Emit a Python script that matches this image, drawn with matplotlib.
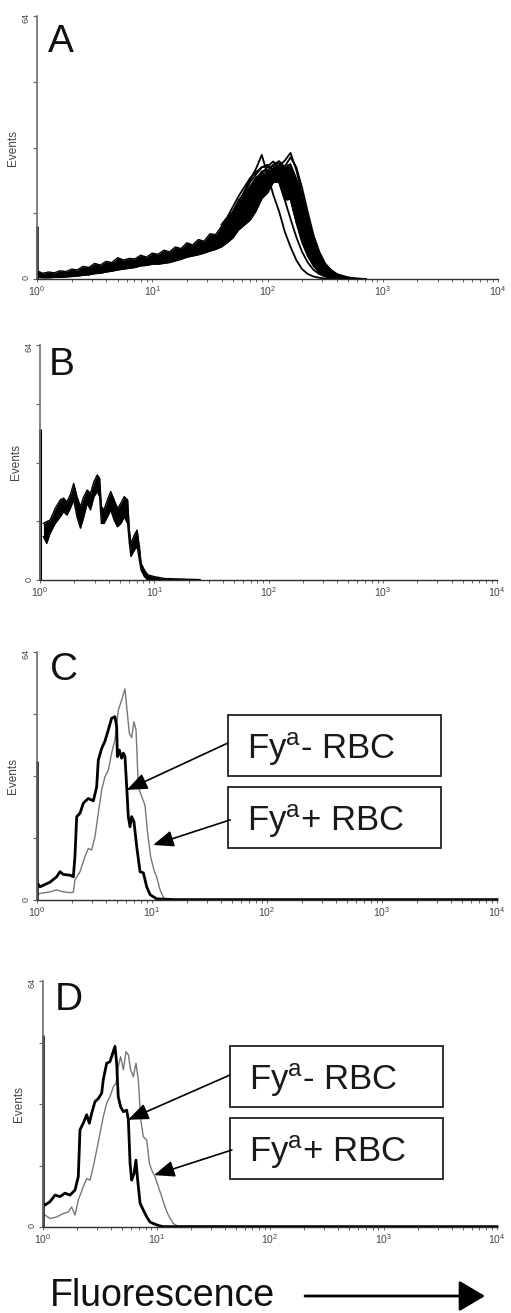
import numpy as np
import matplotlib
matplotlib.use("Agg")
import matplotlib.pyplot as plt
from matplotlib.patches import Rectangle, FancyArrowPatch
from matplotlib.ticker import FixedLocator, LogLocator, NullFormatter

plt.rcParams['font.family'] = ['Liberation Sans', 'DejaVu Sans']
plt.rcParams['mathtext.fontset'] = 'custom'
plt.rcParams['mathtext.rm'] = 'Liberation Sans'
plt.rcParams['mathtext.it'] = 'Liberation Sans:italic'
plt.rcParams['mathtext.bf'] = 'Liberation Sans:bold'

# ---------------- data (x in log10 decades of fluorescence, y in events) ----------------
# Panel A: overlapping histograms of many samples
A_spike = 13.0
A_band_decade = np.round(np.arange(0.0, 2.651, 0.05), 2)
A_band_upper = [2.0, 1.4, 1.7, 1.5, 2.0, 1.8, 2.4, 2.2, 3.1, 2.8,
                3.8, 3.4, 4.3, 4.0, 5.2, 4.6, 5.0, 4.9, 5.8, 5.3,
                6.3, 6.0, 7.0, 6.6, 7.8, 7.4, 8.8, 8.3, 9.6, 9.2,
                11.0, 10.8, 12.8, 14.0, 16.5, 18.6, 20.8, 22.6, 24.6, 25.6,
                26.0, 27.0, 27.6, 27.4, 28.0, 24.5, 20.5, 15.0, 9.5, 6.0,
                3.6, 2.2, 1.2, 0.6]
A_band_lower = [0.4, 0.3, 0.3, 0.4, 0.4, 0.5, 0.6, 0.7, 0.9, 1.0,
                1.3, 1.4, 1.7, 1.9, 2.2, 2.4, 2.6, 2.8, 3.2, 3.3,
                3.6, 3.6, 3.8, 4.0, 4.4, 4.8, 5.3, 5.6, 5.9, 6.3,
                6.8, 7.2, 7.8, 8.8, 10.0, 12.0, 13.2, 14.4, 16.6, 19.6,
                21.0, 23.5, 23.6, 19.2, 19.4, 13.8, 9.0, 5.6, 3.2, 1.6,
                0.8, 0.4, 0.1, 0.0]
A_peak_decade = np.round(np.arange(1.60, 2.851, 0.05), 2)
A_peak_curves = [
    [12.0, 13.8, 16.2, 18.6, 21.4, 24.2, 26.8, 30.2, 25.5, 20.5, 16.5, 11.5, 7.8,
     4.6, 2.4, 1.2, 0.6, 0.3, 0.1, 0, 0, 0, 0, 0, 0, 0],
    [11.0, 12.2, 14.0, 16.2, 18.2, 20.4, 22.0, 23.8, 25.6, 26.8, 27.6, 28.8, 30.7,
     26.5, 20.5, 14.5, 9.2, 5.6, 3.4, 2.2, 1.2, 0.8, 0.4, 0.2, 0.1, 0],
    [12.5, 14.6, 16.4, 19.2, 21.0, 23.6, 25.4, 27.2, 27.4, 28.6, 26.8, 24.2, 19.4,
     13.8, 9.0, 5.6, 3.2, 1.6, 0.8, 0.4, 0.1, 0, 0, 0, 0, 0],
    [11.6, 13.2, 15.2, 17.4, 19.6, 21.8, 23.8, 26.2, 26.4, 27.8, 28.7, 27.2, 24.6,
     20.2, 14.2, 9.6, 6.0, 3.6, 2.0, 1.0, 0.5, 0.2, 0, 0, 0, 0],
    [10.6, 12.4, 14.2, 16.0, 18.6, 20.4, 22.2, 23.4, 25.2, 25.8, 26.6, 27.2, 25.6,
     22.6, 17.6, 11.6, 7.2, 4.2, 2.6, 1.4, 0.7, 0.3, 0.1, 0, 0, 0],
    [13.2, 15.0, 17.6, 20.2, 22.4, 24.6, 26.0, 27.2, 27.8, 26.4, 23.6, 19.2, 14.6,
     10.2, 6.6, 4.0, 2.2, 1.2, 0.6, 0.2, 0, 0, 0, 0, 0, 0],
    [10.2, 11.0, 11.4, 12.0, 13.2, 14.4, 16.6, 19.6, 21.0, 23.6, 26.0, 27.4, 29.6,
     27.2, 22.2, 16.2, 10.6, 6.6, 3.8, 2.2, 1.2, 0.6, 0.3, 0.1, 0, 0],
    [11.2, 13.0, 15.6, 17.8, 20.2, 22.4, 24.6, 25.8, 27.2, 27.4, 28.2, 26.6, 23.2,
     18.2, 12.6, 8.2, 5.0, 3.0, 1.6, 0.8, 0.3, 0.1, 0, 0, 0, 0],
]

# Panel B: overlapping histograms, low fluorescence
B_spike = 41.0
B_decade = [0.03, 0.059, 0.088, 0.133, 0.177, 0.206, 0.236, 0.265, 0.295, 0.324,
            0.354, 0.383, 0.413, 0.442, 0.472, 0.501, 0.522, 0.537, 0.560, 0.590,
            0.619, 0.649, 0.678, 0.708, 0.737, 0.767, 0.782, 0.796, 0.826, 0.850,
            0.870, 0.885, 0.914, 0.944, 1.003, 1.09, 1.2, 1.3, 1.4]
B_upper = [15.4, 15.9, 16.3, 19.5, 21.8, 22.3, 21.3, 23.2, 26.3, 22.7,
           20.0, 22.7, 24.5, 23.6, 26.8, 28.6, 27.7, 20.0, 19.1, 21.8,
           24.1, 21.8, 19.5, 20.9, 22.7, 21.8, 13.6, 10.0, 12.3, 13.6,
           9.1, 4.5, 2.7, 1.4, 0.9, 0.4, 0.3, 0.2, 0.1]
B_lower = [11.8, 10.0, 12.7, 15.4, 17.2, 18.6, 17.7, 19.5, 21.8, 17.2,
           14.1, 17.2, 20.9, 19.1, 22.7, 24.1, 22.7, 15.4, 15.4, 17.2,
           19.1, 16.3, 14.5, 15.4, 17.2, 15.4, 10.0, 6.4, 8.2, 9.1,
           5.4, 2.7, 0.9, 0.0, 0.0, 0.0, 0.0, 0.0, 0.0]

# Panel C: Fya- RBC (thick) vs Fya+ RBC (thin)
C_neg_spike = 36.0
C_neg_decade = [0.012, 0.026, 0.084, 0.113, 0.171, 0.200, 0.229, 0.287, 0.316, 0.330,
                0.345, 0.374, 0.403, 0.446, 0.490, 0.519, 0.533, 0.562, 0.591, 0.620,
                0.649, 0.678, 0.693, 0.699, 0.716, 0.736, 0.751, 0.765, 0.780, 0.794,
                0.809, 0.823, 0.843, 0.867, 0.896, 0.925, 0.954, 0.983, 1.04, 1.2, 4.0]
C_neg_events = [4.0, 3.4, 4.2, 4.6, 6.0, 7.3, 6.6, 6.4, 6.0, 11.2,
                21.5, 22.4, 25.0, 26.2, 25.6, 29.2, 36.1, 39.1, 41.0, 43.9,
                46.9, 47.3, 44.7, 37.0, 38.7, 36.6, 37.9, 37.0, 29.2, 21.5,
                18.9, 21.5, 20.2, 13.8, 7.3, 7.0, 3.4, 1.4, 0.3, 0.1, 0.1]
C_pos_decade = [0.012, 0.026, 0.113, 0.171, 0.229, 0.287, 0.316, 0.330, 0.374, 0.417,
                0.446, 0.475, 0.504, 0.533, 0.562, 0.591, 0.620, 0.649, 0.678, 0.707,
                0.736, 0.765, 0.780, 0.803, 0.823, 0.843, 0.861, 0.881, 0.910, 0.939,
                0.959, 0.988, 1.017, 1.04, 1.07, 1.10, 1.13, 4.0]
C_pos_events = [1.5, 1.7, 2.1, 2.6, 2.1, 1.9, 2.0, 5.2, 7.3, 11.2,
                13.3, 12.9, 16.3, 22.4, 28.4, 31.8, 33.5, 37.9, 41.3, 49.0,
                51.6, 54.5, 49.9, 43.0, 41.9, 46.0, 43.9, 29.2, 26.7, 24.5,
                18.0, 11.2, 7.7, 6.0, 2.6, 0.6, 0.0, 0.0]

# Panel D: Fya- RBC (thick) vs Fya+ RBC (thin)
D_neg_spike = 50.0
D_neg_decade = [0.008, 0.018, 0.062, 0.106, 0.150, 0.194, 0.238, 0.282, 0.311, 0.326,
                0.355, 0.385, 0.408, 0.429, 0.458, 0.487, 0.517, 0.531, 0.561, 0.590,
                0.614, 0.634, 0.649, 0.663, 0.684, 0.708, 0.737, 0.752, 0.767, 0.781,
                0.802, 0.819, 0.831, 0.855, 0.884, 0.914, 0.943, 0.972, 1.016, 1.06, 4.0]
D_neg_events = [6.0, 5.7, 6.6, 8.3, 7.9, 8.8, 8.3, 9.6, 13.1, 25.3,
                27.0, 29.2, 27.0, 29.6, 32.6, 33.4, 34.8, 38.3, 42.6, 43.0,
                45.2, 47.0, 42.6, 33.9, 31.3, 30.0, 30.4, 27.9, 16.6, 12.2,
                13.9, 17.4, 13.1, 6.2, 4.4, 2.6, 1.3, 0.9, 0.4, 0.1, 0.1]
D_pos_decade = [0.008, 0.018, 0.062, 0.120, 0.179, 0.223, 0.252, 0.282, 0.311, 0.355,
                0.385, 0.414, 0.443, 0.473, 0.502, 0.531, 0.561, 0.590, 0.620, 0.643,
                0.663, 0.684, 0.708, 0.731, 0.752, 0.772, 0.796, 0.819, 0.840, 0.861,
                0.884, 0.914, 0.937, 0.958, 0.987, 1.016, 1.046, 1.075, 1.104, 1.148,
                1.19, 4.0]
D_pos_events = [3.0, 3.1, 2.2, 2.6, 3.5, 3.9, 5.2, 3.1, 7.0, 10.5,
                12.6, 12.2, 15.7, 20.0, 24.3, 28.7, 32.2, 33.9, 36.5, 37.4,
                41.7, 44.3, 40.9, 45.6, 44.8, 40.9, 39.1, 42.6, 38.3, 27.9,
                23.5, 22.6, 16.6, 14.8, 13.1, 10.5, 7.9, 5.2, 3.1, 0.9,
                0.2, 0.0]

x_tick_labels = ['$10^{0}$', '$10^{1}$', '$10^{2}$', '$10^{3}$', '$10^{4}$']
y_tick_labels = ['0', '', '', '', '64']
legend_labels = ['Fy$^{\\mathrm{a}}$- RBC', 'Fy$^{\\mathrm{a}}$+ RBC']
panel_letters = ['A', 'B', 'C', 'D']

# ---------------- figure ----------------
W, H = 511, 1313
fig = plt.figure(figsize=(W / 100, H / 100), dpi=100)


def make_axes(x0, x1, ytop, ybot):
    return fig.add_axes([x0 / W, 1 - ybot / H, (x1 - x0) / W, (ybot - ytop) / H])


def style(ax):
    ax.set_xscale('log')
    ax.set_xlim(1, 1e4)
    ax.set_ylim(0, 64)
    ax.patch.set_alpha(0)
    for s in ('top', 'right'):
        ax.spines[s].set_visible(False)
    ax.spines['left'].set_color('#707070')
    ax.spines['left'].set_linewidth(1.2)
    ax.spines['bottom'].set_color('#303030')
    ax.spines['bottom'].set_linewidth(1.0)
    ax.yaxis.set_major_locator(FixedLocator([0, 16, 32, 48, 64]))
    ax.set_yticklabels(y_tick_labels)
    ax.tick_params(axis='y', direction='out', length=3, width=0.8, color='#666666',
                   labelsize=6.5, labelcolor='#444444', labelrotation=90, pad=1.5)
    ax.xaxis.set_major_locator(FixedLocator([1, 10, 100, 1000, 10000]))
    ax.set_xticklabels(x_tick_labels)
    ax.xaxis.set_minor_locator(LogLocator(base=10, subs=np.arange(2, 10)))
    ax.xaxis.set_minor_formatter(NullFormatter())
    ax.tick_params(axis='x', which='both', direction='out', length=2.5, width=0.7,
                   color='#666666', labelsize=7.5, labelcolor='#444444', pad=1)
    ax.set_ylabel('Events', fontsize=8.5, color='#444444', labelpad=2)


def dec(v):
    return 10 ** np.asarray(v, dtype=float)


axA = make_axes(37, 498, 16, 279)
axB = make_axes(40, 497, 345, 580)
axC = make_axes(37, 497, 652, 900)
axD = make_axes(43, 497, 981, 1227)
for ax in (axA, axB, axC, axD):
    style(ax)

# Panel A
axA.plot([1, 1], [0, A_spike], color='black', lw=1.8, clip_on=False, solid_capstyle='butt')
axA.fill_between(dec(A_band_decade), A_band_lower, A_band_upper, color='black', lw=0)
axA.plot(dec(A_band_decade), A_band_upper, color='black', lw=1.0)
axA.plot(dec(A_band_decade), A_band_lower, color='black', lw=1.0)
for curve in A_peak_curves:
    axA.plot(dec(A_peak_decade), curve, color='black', lw=1.3)

# Panel B
axB.plot([1, 1], [0, B_spike], color='black', lw=2.2, clip_on=False, solid_capstyle='butt')
axB.fill_between(dec(B_decade), B_lower, B_upper, color='black', lw=0)
axB.plot(dec(B_decade), B_upper, color='black', lw=1.0)
axB.plot(dec(B_decade), B_lower, color='black', lw=1.0)

# Panels C and D
for ax, neg_spike, nd, ne, pd_, pe in (
        (axC, C_neg_spike, C_neg_decade, C_neg_events, C_pos_decade, C_pos_events),
        (axD, D_neg_spike, D_neg_decade, D_neg_events, D_pos_decade, D_pos_events)):
    ax.plot(dec(pd_), pe, color='#777777', lw=1.0, clip_on=False)
    ax.plot([1, 1], [0, neg_spike], color='black', lw=1.8, clip_on=False, solid_capstyle='butt')
    ax.plot(dec(nd), ne, color='black', lw=2.0, clip_on=False)

# legend boxes with arrows pointing at the curves
box_specs = {
    axC: dict(x0=0.415, x1=0.878, boxes=[(0.500, 0.746), (0.210, 0.456)],
              text_x=0.457, text_y=[0.569, 0.278],
              starts=[(0.415, 0.633), (0.420, 0.323)],
              tips=[(0.78, 28.4), (1.01, 14.2)]),
    axD: dict(x0=0.412, x1=0.881, boxes=[(0.488, 0.736), (0.195, 0.443)],
              text_x=0.454, text_y=[0.557, 0.265],
              starts=[(0.412, 0.618), (0.416, 0.313)],
              tips=[(0.749, 27.9), (0.978, 13.5)]),
}
for ax, s in box_specs.items():
    for (yb, yt), ty, st, tip, lab in zip(s['boxes'], s['text_y'], s['starts'], s['tips'],
                                          legend_labels):
        ax.add_patch(Rectangle((s['x0'], yb), s['x1'] - s['x0'], yt - yb,
                               transform=ax.transAxes, fill=False, lw=1.3,
                               ec='#222222', clip_on=False))
        ax.text(s['text_x'], ty, lab, transform=ax.transAxes, fontsize=25,
                va='baseline', ha='left', color='#1a1a1a')
        ax.annotate('', xy=(10 ** tip[0], tip[1]), xycoords='data',
                    xytext=st, textcoords='axes fraction',
                    arrowprops=dict(arrowstyle='-|>,head_length=1.25,head_width=0.5',
                                    mutation_scale=10, lw=1.2, color='black',
                                    shrinkA=0, shrinkB=0))

# panel letters
for letter, (px, py) in zip(panel_letters, [(48, 52), (49, 375), (50, 680), (55, 1010)]):
    fig.text(px / W, 1 - py / H, letter, fontsize=28, va='baseline', ha='left',
             color='#111111')

# x-axis caption with arrow
fig.text(50 / W, 1 - 1306 / H, 'Fluorescence', fontsize=27, va='baseline', ha='left',
         color='#111111')
fig.add_artist(FancyArrowPatch((305 / W, 1 - 1296 / H), (485 / W, 1 - 1296 / H),
                               transform=fig.transFigure,
                               arrowstyle='-|>,head_length=1.6,head_width=0.95',
                               mutation_scale=10, lw=2.0, color='black',
                               shrinkA=0, shrinkB=0))

fig.savefig('out.png', dpi=100)
